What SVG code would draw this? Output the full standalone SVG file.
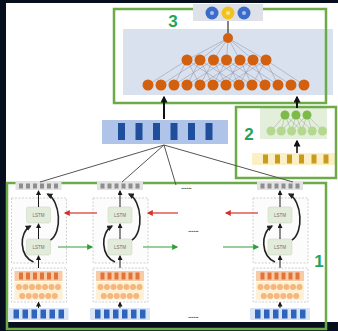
<svg xmlns="http://www.w3.org/2000/svg" width="338" height="331" viewBox="0 0 338 331">
  <defs>
    <style>
      .frame { fill: none; stroke: #6cab47; stroke-width: 2.5; }
      .tag { font-family: "Liberation Sans", Arial, sans-serif; font-weight: bold; fill: #22a45c; }
      .dash { fill: #fcfcfc; stroke: #c4c4c4; stroke-width: 0.8; stroke-dasharray: 2 1.5; }
      .lstm { fill: #e3ebda; stroke: #cdd8c2; stroke-width: 0.6; }
      .lstm-t { font-family: "Liberation Sans", Arial, sans-serif; font-size: 4.5px; fill: #707070; text-anchor: middle; }
      .wire { stroke: #1a1a1a; stroke-width: 1; fill: none; }
      .curve { stroke: #222; stroke-width: 1.6; fill: none; }
      .fan { stroke: #555; stroke-width: 1; fill: none; }
      .net { stroke: #8f9bb0; stroke-width: 0.55; }
      .net2 { stroke: #9aa89a; stroke-width: 0.5; }
      .dots { font-family: "Liberation Sans", Arial, sans-serif; font-size: 8px; font-weight: bold; fill: #555; letter-spacing: -0.5px; }
    </style>
    <marker id="ah" viewBox="0 0 10 10" refX="8" refY="5" markerWidth="5" markerHeight="5" markerUnits="userSpaceOnUse" orient="auto">
      <path d="M0,0 L10,5 L0,10 z" fill="#1a1a1a"/>
    </marker>
    <marker id="ahb" viewBox="0 0 10 10" refX="8" refY="5" markerWidth="7" markerHeight="7" markerUnits="userSpaceOnUse" orient="auto">
      <path d="M0,0 L10,5 L0,10 z" fill="#111"/>
    </marker>
    <marker id="ahc" viewBox="0 0 10 10" refX="8" refY="5" markerWidth="6" markerHeight="6" markerUnits="userSpaceOnUse" orient="auto">
      <path d="M0,0 L10,5 L0,10 z" fill="#222"/>
    </marker>
    <marker id="ahr" viewBox="0 0 10 10" refX="8" refY="5" markerWidth="8" markerHeight="6" markerUnits="userSpaceOnUse" orient="auto">
      <path d="M0,0 L10,5 L0,10 z" fill="#d8312b"/>
    </marker>
    <marker id="ahg" viewBox="0 0 10 10" refX="8" refY="5" markerWidth="8" markerHeight="6" markerUnits="userSpaceOnUse" orient="auto">
      <path d="M0,0 L10,5 L0,10 z" fill="#2f9e3c"/>
    </marker>

    <!-- one encoder column: centred on x=0 -->
    <g id="column">
      <rect x="-23" y="182" width="46" height="8" fill="#e3e3e3"/>
      <g fill="#8e8e8e">
        <rect x="-19.5" y="183.5" width="4" height="5"/>
        <rect x="-12.5" y="183.5" width="4" height="5"/>
        <rect x="-5.5" y="183.5" width="4" height="5"/>
        <rect x="1.5" y="183.5" width="4" height="5"/>
        <rect x="8.5" y="183.5" width="4" height="5"/>
        <rect x="15.5" y="183.5" width="4" height="5"/>
      </g>
      <rect class="dash" x="-27" y="198" width="55" height="65"/>
      <rect class="lstm" x="-12" y="207" width="24" height="16" rx="2"/>
      <text class="lstm-t" x="0" y="216.7">LSTM</text>
      <rect class="lstm" x="-12" y="239" width="24" height="16" rx="2"/>
      <text class="lstm-t" x="0" y="248.7">LSTM</text>
      <line class="wire" x1="0" y1="207" x2="0" y2="191" marker-end="url(#ah)"/>
      <line class="wire" x1="0" y1="239" x2="0" y2="224" marker-end="url(#ah)"/>
      <line class="wire" x1="0" y1="270" x2="0" y2="256" marker-end="url(#ah)"/>
      <path class="curve" d="M-5,262 C-19,256 -20,233 -8,226" marker-end="url(#ahc)"/>
      <path class="curve" d="M12,240 C24,232 22,201 9,194" marker-end="url(#ahc)"/>
      <!-- embedding block -->
      <rect class="dash" x="-27" y="268" width="55" height="34" fill="#fffaf2"/>
      <rect x="-24" y="271" width="48" height="10" fill="#f7caa6"/>
      <g fill="#e2743b">
        <rect x="-19.5" y="272.5" width="4" height="7"/>
        <rect x="-12.5" y="272.5" width="4" height="7"/>
        <rect x="-5.5" y="272.5" width="4" height="7"/>
        <rect x="1.5" y="272.5" width="4" height="7"/>
        <rect x="8.5" y="272.5" width="4" height="7"/>
        <rect x="15.5" y="272.5" width="4" height="7"/>
      </g>
      <rect x="-24" y="282" width="48" height="18" fill="#fdf0d4"/>
      <g fill="#f5b77d">
        <circle cx="-19.5" cy="287" r="3"/><circle cx="-13" cy="287" r="3"/><circle cx="-6.5" cy="287" r="3"/>
        <circle cx="0" cy="287" r="3"/><circle cx="6.5" cy="287" r="3"/><circle cx="13" cy="287" r="3"/>
        <circle cx="19.5" cy="287" r="3"/>
        <circle cx="-16.25" cy="296" r="3"/><circle cx="-9.75" cy="296" r="3"/><circle cx="-3.25" cy="296" r="3"/>
        <circle cx="3.25" cy="296" r="3"/><circle cx="9.75" cy="296" r="3"/><circle cx="16.25" cy="296" r="3"/>
      </g>
      <rect x="-30" y="308" width="60" height="12" rx="1" fill="#d7e4f5"/>
      <g fill="#2f64bd">
        <rect x="-25" y="309.5" width="5.5" height="9"/>
        <rect x="-16" y="309.5" width="5.5" height="9"/>
        <rect x="-7" y="309.5" width="5.5" height="9"/>
        <rect x="2" y="309.5" width="5.5" height="9"/>
        <rect x="11" y="309.5" width="5.5" height="9"/>
        <rect x="20" y="309.5" width="5.5" height="9"/>
      </g>
      <line class="wire" x1="0" y1="308" x2="0" y2="302.5" marker-end="url(#ah)"/>
    </g>
  </defs>

  <!-- backdrop -->
  <rect width="338" height="331" fill="#070f1e"/>
  <rect x="6" y="3" width="332" height="319" fill="#ffffff"/>

  <!-- block 3: classifier head -->
  <g id="head">
    <rect x="123" y="29" width="210" height="66" fill="#d9e0ee"/>
    <g class="net">
      <line x1="228" y1="38" x2="187" y2="60"/><line x1="228" y1="38" x2="200" y2="60"/>
      <line x1="228" y1="38" x2="213.5" y2="60"/><line x1="228" y1="38" x2="226.5" y2="60"/>
      <line x1="228" y1="38" x2="240" y2="60"/><line x1="228" y1="38" x2="253" y2="60"/>
      <line x1="228" y1="38" x2="266" y2="60"/>
      <line x1="187" y1="60" x2="148" y2="85"/><line x1="187" y1="60" x2="174" y2="85"/><line x1="187" y1="60" x2="200" y2="85"/><line x1="187" y1="60" x2="226" y2="85"/>
      <line x1="200" y1="60" x2="161" y2="85"/><line x1="200" y1="60" x2="187" y2="85"/><line x1="200" y1="60" x2="213" y2="85"/><line x1="200" y1="60" x2="239" y2="85"/>
      <line x1="213.5" y1="60" x2="174" y2="85"/><line x1="213.5" y1="60" x2="200" y2="85"/><line x1="213.5" y1="60" x2="226" y2="85"/><line x1="213.5" y1="60" x2="252" y2="85"/>
      <line x1="226.5" y1="60" x2="187" y2="85"/><line x1="226.5" y1="60" x2="213" y2="85"/><line x1="226.5" y1="60" x2="239" y2="85"/><line x1="226.5" y1="60" x2="265" y2="85"/>
      <line x1="240" y1="60" x2="200" y2="85"/><line x1="240" y1="60" x2="226" y2="85"/><line x1="240" y1="60" x2="252" y2="85"/><line x1="240" y1="60" x2="278" y2="85"/>
      <line x1="253" y1="60" x2="213" y2="85"/><line x1="253" y1="60" x2="239" y2="85"/><line x1="253" y1="60" x2="265" y2="85"/><line x1="253" y1="60" x2="291" y2="85"/>
      <line x1="266" y1="60" x2="226" y2="85"/><line x1="266" y1="60" x2="252" y2="85"/><line x1="266" y1="60" x2="278" y2="85"/><line x1="266" y1="60" x2="304" y2="85"/>
    </g>
    <g fill="#d2600f">
      <circle cx="228" cy="38" r="5"/>
      <circle cx="187" cy="60" r="5.5"/><circle cx="200" cy="60" r="5.5"/><circle cx="213.5" cy="60" r="5.5"/>
      <circle cx="226.5" cy="60" r="5.5"/><circle cx="240" cy="60" r="5.5"/><circle cx="253" cy="60" r="5.5"/>
      <circle cx="266" cy="60" r="5.5"/>
      <circle cx="148" cy="85" r="5.5"/><circle cx="161" cy="85" r="5.5"/><circle cx="174" cy="85" r="5.5"/>
      <circle cx="187" cy="85" r="5.5"/><circle cx="200" cy="85" r="5.5"/><circle cx="213" cy="85" r="5.5"/>
      <circle cx="226" cy="85" r="5.5"/><circle cx="239" cy="85" r="5.5"/><circle cx="252" cy="85" r="5.5"/>
      <circle cx="265" cy="85" r="5.5"/><circle cx="278" cy="85" r="5.5"/><circle cx="291" cy="85" r="5.5"/>
      <circle cx="304" cy="85" r="5.5"/>
    </g>
    <line x1="228" y1="20" x2="228" y2="33" stroke="#333" stroke-width="1.2"/>
    <rect class="frame" x="114" y="9" width="212" height="94"/>
    <rect x="193" y="4" width="70" height="17" fill="#dfe1e8"/>
    <circle cx="212" cy="13" r="6.5" fill="#3c6cca"/>
    <circle cx="212" cy="13" r="2" fill="#a9c0ee"/>
    <circle cx="228" cy="13" r="6.5" fill="#f2c21f"/>
    <circle cx="228" cy="13" r="2" fill="#fae79a"/>
    <circle cx="244" cy="13" r="6.5" fill="#3c6cca"/>
    <circle cx="244" cy="13" r="2" fill="#a9c0ee"/>
    <text class="tag" x="173" y="27" font-size="17" text-anchor="middle">3</text>
  </g>

  <!-- block 2: side features -->
  <g id="side">
    <rect x="260" y="108" width="67" height="31" fill="#e3eedb"/>
    <g class="net2">
      <line x1="285" y1="115" x2="271" y2="131"/><line x1="285" y1="115" x2="281.3" y2="131"/><line x1="285" y1="115" x2="291.6" y2="131"/><line x1="285" y1="115" x2="301.9" y2="131"/>
      <line x1="296" y1="115" x2="281.3" y2="131"/><line x1="296" y1="115" x2="291.6" y2="131"/><line x1="296" y1="115" x2="301.9" y2="131"/><line x1="296" y1="115" x2="312.2" y2="131"/>
      <line x1="307" y1="115" x2="291.6" y2="131"/><line x1="307" y1="115" x2="301.9" y2="131"/><line x1="307" y1="115" x2="312.2" y2="131"/><line x1="307" y1="115" x2="322.5" y2="131"/>
    </g>
    <g fill="#b3d88e">
      <circle cx="271" cy="131" r="4.5"/><circle cx="281.3" cy="131" r="4.5"/><circle cx="291.6" cy="131" r="4.5"/>
      <circle cx="301.9" cy="131" r="4.5"/><circle cx="312.2" cy="131" r="4.5"/><circle cx="322.5" cy="131" r="4.5"/>
    </g>
    <g fill="#7cba4a">
      <circle cx="285" cy="115" r="4.5"/><circle cx="296" cy="115" r="4.5"/><circle cx="307" cy="115" r="4.5"/>
    </g>
    <rect x="252" y="153" width="84" height="12" fill="#fcefc6"/>
    <g fill="#c99b1d">
      <rect x="263" y="154.5" width="5" height="9"/><rect x="275" y="154.5" width="5" height="9"/>
      <rect x="287" y="154.5" width="5" height="9"/><rect x="299" y="154.5" width="5" height="9"/>
      <rect x="311.5" y="154.5" width="5" height="9"/><rect x="323.5" y="154.5" width="5" height="9"/>
    </g>
    <rect class="frame" x="236" y="107" width="100" height="71"/>
    <text class="tag" x="249" y="140" font-size="17" text-anchor="middle">2</text>
  </g>

  <!-- pooled sentence vector -->
  <g id="pooled">
    <rect x="102" y="120" width="126" height="24" fill="#b0c3e8"/>
    <g fill="#1f4e9d">
      <rect x="118" y="123" width="7" height="17"/><rect x="135.5" y="123" width="7" height="17"/>
      <rect x="153" y="123" width="7" height="17"/><rect x="170.5" y="123" width="7" height="17"/>
      <rect x="188" y="123" width="7" height="17"/><rect x="205.5" y="123" width="7" height="17"/>
    </g>
  </g>

  <!-- block 1: stacked LSTM encoder -->
  <g id="encoder">
    <rect class="frame" x="7" y="183" width="319" height="146"/>
    <use href="#column" x="38.5"/>
    <use href="#column" x="120"/>
    <use href="#column" x="280"/>
    <text class="dots" x="181" y="189">......</text>
    <text class="dots" x="188" y="232">......</text>
    <text class="dots" x="188" y="318">......</text>
    <text class="tag" x="319" y="267" font-size="17" text-anchor="middle">1</text>
  </g>

  <!-- connectors -->
  <g id="connectors">
    <line x1="164" y1="145" x2="40" y2="182" class="fan"/>
    <line x1="164" y1="145" x2="122" y2="182" class="fan"/>
    <line x1="164" y1="145" x2="176" y2="185" class="fan"/>
    <line x1="164" y1="145" x2="293" y2="182" class="fan"/>
    <line x1="164" y1="119" x2="164" y2="97" stroke="#111" stroke-width="2" marker-end="url(#ahb)"/>
    <line x1="297" y1="108" x2="297" y2="97" stroke="#111" stroke-width="2" marker-end="url(#ahb)"/>
    <line x1="297" y1="153" x2="297" y2="141" stroke="#111" stroke-width="1.6" marker-end="url(#ahb)"/>
    <line x1="97" y1="213" x2="65" y2="213" stroke="#d8312b" stroke-width="1.2" marker-end="url(#ahr)"/>
    <line x1="178" y1="213" x2="148" y2="213" stroke="#d8312b" stroke-width="1.2" marker-end="url(#ahr)"/>
    <line x1="258" y1="213" x2="226" y2="213" stroke="#d8312b" stroke-width="1.2" marker-end="url(#ahr)"/>
    <line x1="58" y1="247" x2="92" y2="247" stroke="#2f9e3c" stroke-width="1.2" marker-end="url(#ahg)"/>
    <line x1="143" y1="247" x2="177" y2="247" stroke="#2f9e3c" stroke-width="1.2" marker-end="url(#ahg)"/>
    <line x1="223" y1="247" x2="258" y2="247" stroke="#2f9e3c" stroke-width="1.2" marker-end="url(#ahg)"/>
  </g>
</svg>
